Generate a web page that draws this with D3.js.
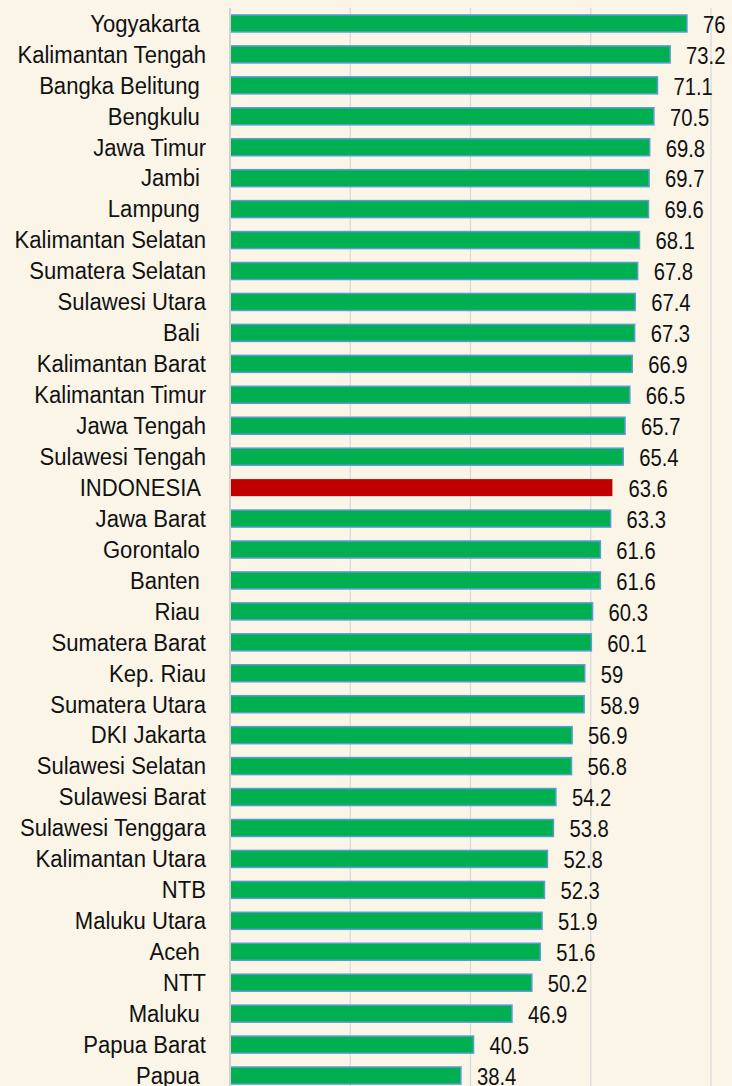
<!DOCTYPE html>
<html>
<head>
<meta charset="utf-8">
<script src="https://cdn.jsdelivr.net/npm/d3@7"></script>
<style>
  html, body { margin: 0; padding: 0; background: #FBF5E8; }
  svg { display: block; }
  text { font-family: "Liberation Sans", Arial, sans-serif; fill: #111; white-space: pre; }
</style>
</head>
<body>
<svg id="chart" width="732" height="1086"></svg>
<script>
const categories = ["Yogyakarta ", "Kalimantan Tengah", "Bangka Belitung ", "Bengkulu ", "Jawa Timur", "Jambi ", "Lampung ", "Kalimantan Selatan", "Sumatera Selatan", "Sulawesi Utara", "Bali ", "Kalimantan Barat", "Kalimantan Timur", "Jawa Tengah", "Sulawesi Tengah", "INDONESIA ", "Jawa Barat", "Gorontalo ", "Banten ", "Riau ", "Sumatera Barat", "Kep. Riau", "Sumatera Utara", "DKI Jakarta", "Sulawesi Selatan", "Sulawesi Barat", "Sulawesi Tenggara", "Kalimantan Utara", "NTB", "Maluku Utara", "Aceh ", "NTT", "Maluku ", "Papua Barat", "Papua "];
const values = [76, 73.2, 71.1, 70.5, 69.8, 69.7, 69.6, 68.1, 67.8, 67.4, 67.3, 66.9, 66.5, 65.7, 65.4, 63.6, 63.3, 61.6, 61.6, 60.3, 60.1, 59, 58.9, 56.9, 56.8, 54.2, 53.8, 52.8, 52.3, 51.9, 51.6, 50.2, 46.9, 40.5, 38.4];
const highlight = ["INDONESIA "];
const xTicks = [0, 20, 40, 60, 80];

const data = categories.map((c, i) => ({ cat: c, val: values[i] }));
const svg = d3.select("#chart");

const x = d3.scaleLinear().domain([0, 80]).range([230, 711]);
const y = d3.scaleBand().domain(categories).range([8, 1091]).paddingInner(0.45).paddingOuter(0.225);
const squeezeCat = 0.96;
const squeezeVal = 0.88;

// gridlines
svg.append("g").selectAll("line").data(xTicks.slice(1)).join("line")
  .attr("x1", d => x(d)).attr("x2", d => x(d))
  .attr("y1", 8).attr("y2", 1086)
  .attr("stroke", "#D9D9D9").attr("stroke-width", 1.2);

// bars
svg.append("g").selectAll("rect").data(data).join("rect")
  .attr("x", x(0))
  .attr("y", d => y(d.cat))
  .attr("width", d => x(d.val) - x(0))
  .attr("height", y.bandwidth())
  .attr("fill", d => highlight.includes(d.cat) ? "#C00000" : "#00B050")
  .attr("stroke", d => highlight.includes(d.cat) ? "none" : "#5B9BD5")
  .attr("stroke-width", 1.5);

// axis line
svg.append("line")
  .attr("x1", x(0)).attr("x2", x(0)).attr("y1", 8).attr("y2", 1086)
  .attr("stroke", "#D0D0D0").attr("stroke-width", 2);

// category labels
svg.append("g").selectAll("text").data(data).join("text")
  .attr("transform", d => `translate(206,${y(d.cat) + y.bandwidth() / 2}) scale(${squeezeCat},1)`)
  .attr("dy", "0.36em")
  .attr("text-anchor", "end")
  .attr("font-size", 23)
  .text(d => d.cat);

// value labels
svg.append("g").selectAll("text").data(data).join("text")
  .attr("transform", d => `translate(${x(d.val) + 16},${y(d.cat) + y.bandwidth() / 2 + 1}) scale(${squeezeVal},1)`)
  .attr("dy", "0.36em")
  .attr("font-size", 23)
  .text(d => d.val);
</script>
</body>
</html>
